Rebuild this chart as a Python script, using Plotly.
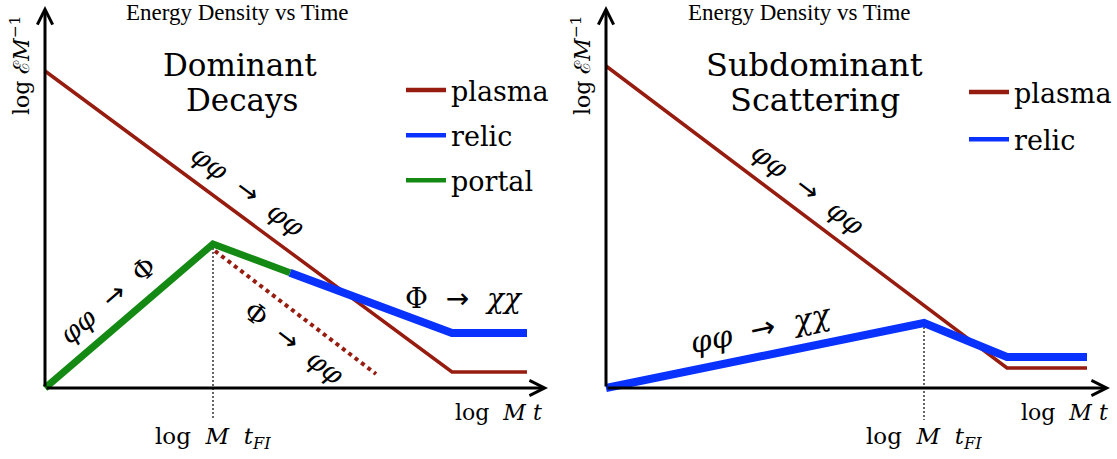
import plotly.graph_objects as go

# ---------------- data (log-log, arbitrary units) ----------------
# Left panel: Dominant Decays
t_plasma_L = [0.0, 8.14, 9.64]
e_plasma_L = [7.925, 0.4, 0.4]
t_portal_L = [0.0, 3.36, 4.9]
e_portal_L = [0.0, 3.6, 2.88]
t_relic_L = [4.9, 8.14, 9.64]
e_relic_L = [2.88, 1.375, 1.375]
t_decay_L = [3.4, 6.62]
e_decay_L = [3.425, 0.35]
t_FI_L = 3.36
e_FI_L = 3.6

# Right panel: Subdominant Scattering
t_plasma_R = [0.0, 8.02, 9.62]
e_plasma_R = [8.05, 0.5, 0.5]
t_relic_R = [0.0, 6.36, 8.02, 9.62]
e_relic_R = [0.0, 1.625, 0.775, 0.775]
t_FI_R = 6.36
e_FI_R = 1.625

series_names = ["plasma", "relic", "portal"]

# ---------------- style ----------------
W, H = 1117, 459
SERIF = "Liberation Serif"
SERIF_BIG = "DejaVu Serif"
RED = "#971c10"
BLUE = "#0a32ff"
GREEN = "#148a14"
E_MIN = -0.8
ARW = '<span style="font-family:DejaVu Sans">→</span>'
SP = "\u00a0"

fig = go.Figure()

def line(x, y, color, width, xa, ya, dash=None):
    fig.add_trace(go.Scatter(
        x=x, y=y, mode="lines",
        line=dict(color=color, width=width, dash=dash),
        xaxis=xa, yaxis=ya, showlegend=False, hoverinfo="skip"))

def legend_entry(name, color, legend, xa, ya):
    fig.add_trace(go.Scatter(
        x=[None], y=[None], mode="lines", name=name,
        line=dict(color=color, width=4.5),
        xaxis=xa, yaxis=ya, showlegend=True, legend=legend,
        legendgroup=legend + name, hoverinfo="skip"))

# left panel
line([t_FI_L, t_FI_L], [e_FI_L, E_MIN], "black", 1.2, "x", "y", dash="2px,2px")
line(t_decay_L, e_decay_L, RED, 4, "x", "y", dash="4px,4px")
line(t_plasma_L, e_plasma_L, RED, 3.5, "x", "y")
line(t_relic_L, e_relic_L, BLUE, 8, "x", "y")
line(t_portal_L, e_portal_L, GREEN, 7, "x", "y")
legend_entry(series_names[0], RED, "legend", "x", "y")
legend_entry(series_names[1], BLUE, "legend", "x", "y")
legend_entry(series_names[2], GREEN, "legend", "x", "y")

# right panel
line([t_FI_R, t_FI_R], [e_FI_R, E_MIN], "black", 1.2, "x2", "y2", dash="2px,2px")
line(t_plasma_R, e_plasma_R, RED, 3.5, "x2", "y2")
line(t_relic_R, e_relic_R, BLUE, 8, "x2", "y2")
legend_entry(series_names[0], RED, "legend2", "x2", "y2")
legend_entry(series_names[1], BLUE, "legend2", "x2", "y2")

ann = []

def text(s, x, y, size, xref="paper", yref="paper", angle=0, family=SERIF_BIG):
    ann.append(dict(text=s, x=x, y=y, xref=xref, yref=yref, showarrow=False,
                    textangle=angle, xanchor="center", yanchor="middle",
                    font=dict(family=family, size=size, color="black")))

def arrow(x0, y0, x1, y1, xref, yref):
    ann.append(dict(x=x1, y=y1, ax=x0, ay=y0, xref=xref, yref=yref,
                    axref=xref, ayref=yref, showarrow=True, text="",
                    arrowhead=5, arrowsize=1.0, arrowwidth=3, arrowcolor="black"))

# axes arrows
arrow(0, 0, 10.06, 0, "x", "y")
arrow(0, 0, 0, 9.55, "x", "y")
arrow(0, 0, 10.08, 0, "x2", "y2")
arrow(0, 0, 0, 9.55, "x2", "y2")

# titles
text("Energy Density vs Time", 238 / W, 1 - 12 / H, 23, family=SERIF)
text("Energy Density vs Time", 799 / W, 1 - 12 / H, 23, family=SERIF)
text("Dominant", 240 / W, 1 - 65 / H, 31)
text("Decays", 242 / W, 1 - 100 / H, 31)
text("Subdominant", 814 / W, 1 - 65 / H, 32)
text("Scattering", 815 / W, 1 - 100 / H, 32)

# axis labels
ylab = "log" + SP + "ℰ<i>M</i><sup>−1</sup>"
text(ylab, 20 / W, 1 - 65 / H, 22, angle=-90)
text(ylab, 581 / W, 1 - 65 / H, 22, angle=-90)
xlab = "log" + SP * 2 + "<i>M</i>" + SP + "<i>t</i>"
text(xlab, 9.06, -0.6, 22, "x", "y")
text(xlab, 9.16, -0.6, 22, "x2", "y2")
xfi = "log" + SP * 2 + "<i>M</i>" + SP * 2 + "<i>t<sub>FI</sub></i>"
text(xfi, t_FI_L, -1.25, 23, "x", "y")
text(xfi, t_FI_R, -1.25, 23, "x2", "y2")

# process labels
def proc(a, b, n=2):
    return a + SP * n + ARW + SP * n + b

PP = "<i>φφ</i>"
text(proc(PP, PP), 4.06, 4.95, 27, "x", "y", angle=36.5)
text(proc(PP, "Φ"), 1.24, 2.2, 27, "x", "y", angle=-40.6)
text(proc("Φ", PP), 4.98, 1.15, 27, "x", "y", angle=37.4)
text(proc("Φ", "<i>χχ</i>"), 8.38, 2.25, 28, "x", "y")
text(proc(PP, PP), 4.04, 5.0, 27, "x2", "y2", angle=37)
text(proc(PP, "<i>χχ</i>"), 3.08, 1.5, 30, "x2", "y2", angle=-12)

ax_common = dict(visible=False, fixedrange=True)
leg_font = dict(family=SERIF_BIG, size=27, color="black")
fig.update_layout(
    width=W, height=H,
    margin=dict(l=0, r=0, t=0, b=0),
    paper_bgcolor="white", plot_bgcolor="white",
    xaxis=dict(domain=[0, 0.5], range=[-45 / 50, (558.5 - 45) / 50], anchor="y", **ax_common),
    yaxis=dict(domain=[0, 1], range=[(388 - 459) / 40, 388 / 40], anchor="x", **ax_common),
    xaxis2=dict(domain=[0.5, 1], range=[(558.5 - 606) / 50, (1117 - 606) / 50], anchor="y2", **ax_common),
    yaxis2=dict(domain=[0, 1], range=[(388 - 459) / 40, 388 / 40], anchor="x2", **ax_common),
    legend=dict(x=401 / W, y=1 - 66 / H, xanchor="left", yanchor="top", font=leg_font,
                bgcolor="rgba(0,0,0,0)", tracegroupgap=7, itemwidth=40),
    legend2=dict(x=964 / W, y=1 - 68 / H, xanchor="left", yanchor="top", font=leg_font,
                 bgcolor="rgba(0,0,0,0)", tracegroupgap=9, itemwidth=40),
    annotations=ann,
    showlegend=True,
)

fig.write_html("out.html", config={"displayModeBar": False},
               post_script="document.body.style.margin='0';")
